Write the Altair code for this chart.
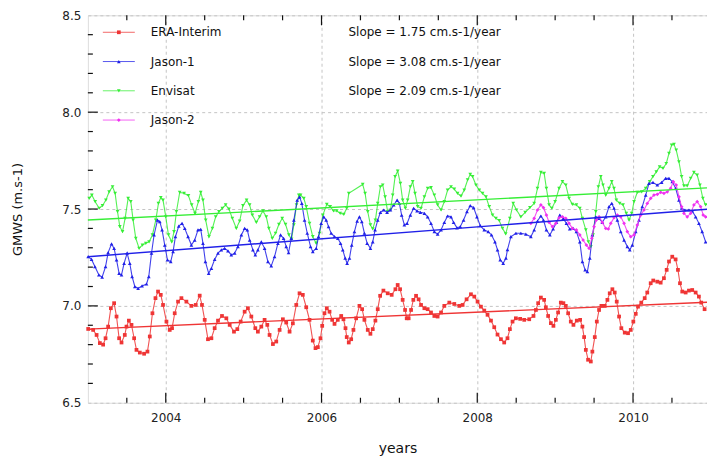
import altair as alt
import pandas as pd

# ---------------- data ----------------
era_t = [2003.004, 2003.068, 2003.112, 2003.154, 2003.196, 2003.227, 2003.260, 2003.295, 2003.337, 2003.368,
         2003.401, 2003.432, 2003.474, 2003.496, 2003.526, 2003.560, 2003.594, 2003.624, 2003.667, 2003.722,
         2003.765, 2003.795, 2003.829, 2003.868, 2003.901, 2003.936, 2003.965, 2004.009, 2004.051, 2004.081,
         2004.115, 2004.158, 2004.201, 2004.265, 2004.329, 2004.385, 2004.436, 2004.465, 2004.500, 2004.542,
         2004.586, 2004.628, 2004.671, 2004.722, 2004.778, 2004.821, 2004.876, 2004.919, 2004.962, 2005.013,
         2005.055, 2005.099, 2005.150, 2005.183, 2005.227, 2005.269, 2005.304, 2005.333, 2005.376, 2005.419,
         2005.462, 2005.504, 2005.547, 2005.590, 2005.632, 2005.676, 2005.718, 2005.760, 2005.804, 2005.846,
         2005.888, 2005.923, 2005.953, 2005.987, 2006.009, 2006.038, 2006.068, 2006.103, 2006.137, 2006.167,
         2006.209, 2006.253, 2006.282, 2006.308, 2006.324, 2006.350, 2006.381, 2006.410, 2006.445, 2006.487,
         2006.522, 2006.551, 2006.594, 2006.628, 2006.658, 2006.692, 2006.722, 2006.753, 2006.795, 2006.850,
         2006.901, 2006.949, 2006.978, 2007.009, 2007.042, 2007.073, 2007.094, 2007.119, 2007.150, 2007.179,
         2007.214, 2007.247, 2007.278, 2007.321, 2007.363, 2007.406, 2007.449, 2007.491, 2007.535, 2007.577,
         2007.641, 2007.705, 2007.769, 2007.812, 2007.863, 2007.919, 2007.962, 2008.004, 2008.047, 2008.090,
         2008.132, 2008.176, 2008.218, 2008.260, 2008.304, 2008.346, 2008.388, 2008.419, 2008.453, 2008.496,
         2008.551, 2008.603, 2008.667, 2008.722, 2008.753, 2008.782, 2008.817, 2008.859, 2008.881, 2008.910,
         2008.945, 2008.978, 2009.009, 2009.038, 2009.073, 2009.106, 2009.137, 2009.167, 2009.201, 2009.235,
         2009.278, 2009.321, 2009.350, 2009.372, 2009.394, 2009.423, 2009.458, 2009.478, 2009.509, 2009.535,
         2009.564, 2009.594, 2009.637, 2009.671, 2009.701, 2009.735, 2009.765, 2009.791, 2009.821, 2009.850,
         2009.894, 2009.936, 2009.971, 2010.004, 2010.035, 2010.064, 2010.106, 2010.150, 2010.183, 2010.227,
         2010.260, 2010.312, 2010.355, 2010.397, 2010.432, 2010.462, 2010.504, 2010.547, 2010.577, 2010.603,
         2010.632, 2010.676, 2010.718, 2010.760, 2010.804, 2010.846, 2010.876, 2010.919]
era_v = [6.881, 6.876, 6.850, 6.808, 6.800, 6.833, 6.893, 6.988, 7.014, 6.945,
         6.833, 6.811, 6.850, 6.893, 6.924, 6.902, 6.833, 6.773, 6.759, 6.753,
         6.764, 6.842, 6.962, 7.040, 7.074, 7.057, 7.005, 6.919, 6.876, 6.885,
         6.962, 7.022, 7.040, 7.022, 7.000, 7.005, 7.053, 7.005, 6.928, 6.828,
         6.833, 6.885, 6.924, 6.948, 6.936, 6.902, 6.867, 6.880, 6.919, 6.970,
         6.988, 6.945, 6.885, 6.867, 6.893, 6.928, 6.902, 6.850, 6.803, 6.816,
         6.876, 6.931, 6.914, 6.867, 6.910, 7.005, 7.065, 7.057, 6.993, 6.928,
         6.821, 6.782, 6.787, 6.833, 6.897, 6.962, 6.988, 6.970, 6.928, 6.907,
         6.928, 6.948, 6.931, 6.885, 6.839, 6.811, 6.828, 6.876, 6.936, 7.000,
         6.983, 6.928, 6.876, 6.856, 6.880, 6.924, 6.983, 7.052, 7.079, 7.065,
         7.057, 7.086, 7.108, 7.086, 7.031, 6.979, 6.936, 6.936, 6.979, 7.031,
         7.052, 7.034, 7.005, 6.988, 6.983, 6.966, 6.948, 6.945, 6.966, 7.000,
         7.017, 7.010, 7.000, 7.005, 7.034, 7.060, 7.048, 7.022, 6.996, 6.976,
         6.954, 6.924, 6.890, 6.852, 6.828, 6.811, 6.833, 6.880, 6.919, 6.936,
         6.933, 6.928, 6.931, 6.948, 6.979, 7.014, 7.043, 7.031, 6.993, 6.948,
         6.911, 6.897, 6.928, 6.966, 7.017, 7.014, 7.000, 6.962, 6.919, 6.902,
         6.924, 6.928, 6.893, 6.839, 6.773, 6.722, 6.713, 6.764, 6.839, 6.919,
         6.979, 7.000, 7.000, 7.031, 7.065, 7.086, 7.069, 7.022, 6.945, 6.885,
         6.862, 6.859, 6.876, 6.919, 6.959, 6.996, 7.017, 7.040, 7.069, 7.117,
         7.131, 7.125, 7.120, 7.143, 7.186, 7.229, 7.254, 7.240, 7.186, 7.117,
         7.074, 7.069, 7.079, 7.082, 7.069, 7.048, 7.017, 6.983]

j1_t = [2003.004, 2003.047, 2003.090, 2003.141, 2003.183, 2003.227, 2003.260, 2003.304, 2003.337, 2003.368,
        2003.401, 2003.432, 2003.465, 2003.504, 2003.538, 2003.568, 2003.603, 2003.645, 2003.696, 2003.753,
        2003.782, 2003.817, 2003.850, 2003.894, 2003.923, 2003.953, 2003.987, 2004.022, 2004.064, 2004.094,
        2004.124, 2004.167, 2004.209, 2004.244, 2004.286, 2004.329, 2004.372, 2004.414, 2004.449, 2004.478,
        2004.509, 2004.551, 2004.586, 2004.628, 2004.671, 2004.714, 2004.756, 2004.799, 2004.842, 2004.885,
        2004.927, 2004.971, 2005.013, 2005.047, 2005.077, 2005.119, 2005.150, 2005.183, 2005.227, 2005.269,
        2005.312, 2005.355, 2005.397, 2005.440, 2005.474, 2005.513, 2005.547, 2005.577, 2005.612, 2005.645,
        2005.688, 2005.718, 2005.747, 2005.782, 2005.817, 2005.859, 2005.888, 2005.932, 2005.962, 2005.996,
        2006.029, 2006.060, 2006.090, 2006.124, 2006.167, 2006.209, 2006.244, 2006.273, 2006.304, 2006.329,
        2006.359, 2006.388, 2006.423, 2006.458, 2006.487, 2006.517, 2006.551, 2006.586, 2006.628, 2006.658,
        2006.688, 2006.722, 2006.756, 2006.799, 2006.842, 2006.885, 2006.927, 2006.971, 2007.000, 2007.029,
        2007.064, 2007.099, 2007.141, 2007.183, 2007.227, 2007.269, 2007.321, 2007.363, 2007.406, 2007.449,
        2007.491, 2007.535, 2007.577, 2007.619, 2007.663, 2007.696, 2007.740, 2007.782, 2007.824, 2007.868,
        2007.910, 2007.953, 2007.996, 2008.038, 2008.090, 2008.141, 2008.183, 2008.227, 2008.260, 2008.295,
        2008.333, 2008.368, 2008.388, 2008.432, 2008.496, 2008.560, 2008.624, 2008.688, 2008.731, 2008.773,
        2008.817, 2008.850, 2008.888, 2008.932, 2008.974, 2009.017, 2009.060, 2009.103, 2009.145, 2009.188,
        2009.231, 2009.273, 2009.317, 2009.350, 2009.385, 2009.414, 2009.445, 2009.478, 2009.522, 2009.564,
        2009.606, 2009.650, 2009.692, 2009.727, 2009.756, 2009.799, 2009.842, 2009.885, 2009.927, 2009.958,
        2009.991, 2010.035, 2010.077, 2010.119, 2010.163, 2010.205, 2010.256, 2010.312, 2010.368, 2010.419,
        2010.462, 2010.504, 2010.547, 2010.590, 2010.624, 2010.667, 2010.718, 2010.760, 2010.804, 2010.846,
        2010.888, 2010.932]
j1_v = [7.254, 7.240, 7.203, 7.160, 7.148, 7.203, 7.275, 7.320, 7.297, 7.237,
        7.168, 7.160, 7.220, 7.272, 7.220, 7.151, 7.100, 7.091, 7.103, 7.113,
        7.151, 7.272, 7.366, 7.443, 7.435, 7.392, 7.314, 7.237, 7.228, 7.280,
        7.357, 7.412, 7.426, 7.400, 7.357, 7.314, 7.340, 7.392, 7.395, 7.323,
        7.228, 7.168, 7.194, 7.240, 7.272, 7.289, 7.297, 7.284, 7.263, 7.272,
        7.306, 7.366, 7.400, 7.392, 7.340, 7.289, 7.263, 7.289, 7.331, 7.297,
        7.228, 7.206, 7.254, 7.323, 7.366, 7.349, 7.306, 7.275, 7.349, 7.443,
        7.546, 7.563, 7.529, 7.443, 7.375, 7.306, 7.280, 7.297, 7.357, 7.426,
        7.460, 7.443, 7.409, 7.375, 7.357, 7.349, 7.323, 7.289, 7.246, 7.220,
        7.246, 7.314, 7.383, 7.438, 7.460, 7.435, 7.375, 7.323, 7.297, 7.331,
        7.392, 7.443, 7.483, 7.495, 7.483, 7.495, 7.521, 7.546, 7.529, 7.469,
        7.418, 7.426, 7.469, 7.504, 7.490, 7.483, 7.478, 7.460, 7.426, 7.383,
        7.370, 7.392, 7.431, 7.464, 7.460, 7.431, 7.403, 7.409, 7.443, 7.486,
        7.517, 7.507, 7.460, 7.414, 7.392, 7.383, 7.366, 7.331, 7.289, 7.237,
        7.220, 7.246, 7.290, 7.357, 7.375, 7.375, 7.370, 7.357, 7.392, 7.438,
        7.464, 7.443, 7.392, 7.366, 7.397, 7.431, 7.469, 7.452, 7.426, 7.397,
        7.400, 7.383, 7.331, 7.228, 7.186, 7.177, 7.246, 7.366, 7.460, 7.452,
        7.431, 7.460, 7.512, 7.529, 7.504, 7.443, 7.383, 7.340, 7.306, 7.289,
        7.314, 7.383, 7.443, 7.512, 7.572, 7.632, 7.637, 7.624, 7.637, 7.658,
        7.658, 7.641, 7.607, 7.546, 7.504, 7.495, 7.495, 7.490, 7.460, 7.426,
        7.383, 7.331]

env_t = [2003.017, 2003.051, 2003.094, 2003.145, 2003.188, 2003.231, 2003.273, 2003.317, 2003.350, 2003.381,
         2003.410, 2003.445, 2003.478, 2003.517, 2003.551, 2003.581, 2003.615, 2003.658, 2003.701, 2003.744,
         2003.786, 2003.829, 2003.872, 2003.906, 2003.936, 2003.965, 2004.000, 2004.035, 2004.077, 2004.106,
         2004.137, 2004.179, 2004.235, 2004.291, 2004.333, 2004.376, 2004.419, 2004.449, 2004.478, 2004.513,
         2004.555, 2004.599, 2004.641, 2004.683, 2004.727, 2004.769, 2004.812, 2004.855, 2004.906, 2004.949,
         2004.991, 2005.038, 2005.077, 2005.112, 2005.163, 2005.205, 2005.247, 2005.291, 2005.324, 2005.368,
         2005.410, 2005.453, 2005.496, 2005.538, 2005.581, 2005.615, 2005.645, 2005.679, 2005.709, 2005.731,
         2005.773, 2005.804, 2005.846, 2005.888, 2005.932, 2005.974, 2006.017, 2006.068, 2006.112, 2006.154,
         2006.196, 2006.240, 2006.286, 2006.324, 2006.350, 2006.529, 2006.560, 2006.594, 2006.628, 2006.658,
         2006.692, 2006.722, 2006.756, 2006.786, 2006.817, 2006.850, 2006.885, 2006.914, 2006.945, 2006.978,
         2007.013, 2007.042, 2007.077, 2007.106, 2007.141, 2007.171, 2007.201, 2007.235, 2007.278, 2007.321,
         2007.363, 2007.406, 2007.449, 2007.491, 2007.535, 2007.577, 2007.619, 2007.663, 2007.705, 2007.747,
         2007.791, 2007.833, 2007.876, 2007.910, 2007.940, 2007.983, 2008.026, 2008.068, 2008.112, 2008.154,
         2008.196, 2008.240, 2008.282, 2008.324, 2008.365, 2008.419, 2008.462, 2008.504, 2008.560, 2008.615,
         2008.676, 2008.731, 2008.773, 2008.817, 2008.859, 2008.888, 2008.923, 2008.958, 2009.000, 2009.051,
         2009.094, 2009.137, 2009.179, 2009.222, 2009.273, 2009.317, 2009.350, 2009.394, 2009.427, 2009.458,
         2009.487, 2009.522, 2009.555, 2009.586, 2009.615, 2009.650, 2009.692, 2009.727, 2009.756, 2009.786,
         2009.829, 2009.872, 2009.914, 2009.949, 2009.983, 2010.013, 2010.055, 2010.112, 2010.163, 2010.214,
         2010.256, 2010.299, 2010.342, 2010.385, 2010.427, 2010.462, 2010.496, 2010.526, 2010.555, 2010.590,
         2010.624, 2010.654, 2010.696, 2010.740, 2010.782, 2010.824, 2010.859, 2010.897, 2010.932]
env_v = [7.555, 7.572, 7.538, 7.504, 7.517, 7.546, 7.589, 7.615, 7.581, 7.486,
         7.409, 7.383, 7.452, 7.555, 7.538, 7.443, 7.349, 7.297, 7.314, 7.323,
         7.331, 7.366, 7.443, 7.529, 7.559, 7.546, 7.460, 7.366, 7.331, 7.383,
         7.486, 7.586, 7.581, 7.569, 7.521, 7.478, 7.538, 7.586, 7.546, 7.443,
         7.357, 7.400, 7.460, 7.486, 7.504, 7.521, 7.500, 7.452, 7.400, 7.438,
         7.517, 7.546, 7.521, 7.469, 7.431, 7.460, 7.490, 7.460, 7.400, 7.349,
         7.375, 7.421, 7.452, 7.421, 7.366, 7.345, 7.418, 7.521, 7.572, 7.572,
         7.555, 7.512, 7.426, 7.357, 7.323, 7.375, 7.469, 7.524, 7.512, 7.490,
         7.490, 7.478, 7.473, 7.504, 7.581, 7.627, 7.581, 7.486, 7.418, 7.397,
         7.443, 7.529, 7.615, 7.624, 7.563, 7.486, 7.495, 7.572, 7.667, 7.696,
         7.632, 7.546, 7.504, 7.546, 7.615, 7.641, 7.581, 7.512, 7.504, 7.563,
         7.607, 7.610, 7.572, 7.521, 7.495, 7.538, 7.598, 7.615, 7.603, 7.581,
         7.567, 7.598, 7.650, 7.679, 7.667, 7.624, 7.598, 7.581, 7.563, 7.512,
         7.469, 7.452, 7.440, 7.400, 7.372, 7.452, 7.529, 7.495, 7.460, 7.483,
         7.507, 7.529, 7.607, 7.689, 7.684, 7.607, 7.521, 7.504, 7.538, 7.607,
         7.641, 7.624, 7.555, 7.524, 7.521, 7.504, 7.452, 7.392, 7.331, 7.306,
         7.366, 7.486, 7.615, 7.667, 7.624, 7.572, 7.607, 7.641, 7.607, 7.546,
         7.529, 7.521, 7.478, 7.443, 7.478, 7.538, 7.586, 7.589, 7.607, 7.641,
         7.667, 7.692, 7.718, 7.710, 7.735, 7.787, 7.830, 7.834, 7.804, 7.744,
         7.667, 7.620, 7.620, 7.658, 7.689, 7.675, 7.624, 7.555, 7.521]

j2_t = [2008.688, 2008.731, 2008.773, 2008.817, 2008.850, 2008.888, 2008.923, 2008.965, 2009.009, 2009.051,
        2009.094, 2009.137, 2009.179, 2009.222, 2009.273, 2009.317, 2009.359, 2009.401, 2009.436, 2009.471,
        2009.500, 2009.529, 2009.564, 2009.606, 2009.650, 2009.683, 2009.714, 2009.756, 2009.799, 2009.842,
        2009.885, 2009.927, 2009.971, 2010.013, 2010.055, 2010.099, 2010.141, 2010.183, 2010.227, 2010.269,
        2010.312, 2010.355, 2010.397, 2010.440, 2010.483, 2010.517, 2010.555, 2010.590, 2010.624, 2010.654,
        2010.696, 2010.740, 2010.782, 2010.824, 2010.868, 2010.901, 2010.932]
j2_v = [7.426, 7.452, 7.495, 7.521, 7.507, 7.469, 7.431, 7.409, 7.426, 7.455,
        7.460, 7.452, 7.426, 7.400, 7.392, 7.366, 7.340, 7.314, 7.297, 7.349,
        7.409, 7.443, 7.460, 7.431, 7.400, 7.397, 7.426, 7.455, 7.469, 7.460,
        7.426, 7.383, 7.357, 7.366, 7.418, 7.469, 7.495, 7.529, 7.555, 7.572,
        7.576, 7.586, 7.581, 7.589, 7.607, 7.641, 7.624, 7.563, 7.512, 7.478,
        7.460, 7.478, 7.521, 7.538, 7.512, 7.469, 7.460]

# linear trends: value at 2003.0 (read) and slope from the legend (m/s per year)
trend_names = ["ERA-Interim", "Jason-1", "Envisat"]
trend_start = [6.880, 7.254, 7.443]
trend_slope = [0.0175, 0.0308, 0.0209]

names = ["ERA-Interim", "Jason-1", "Envisat", "Jason-2"]
slope_labels = ["Slope = 1.75 cm.s-1/year", "Slope = 3.08 cm.s-1/year",
                "Slope = 2.09 cm.s-1/year", ""]

x_labels = [2004, 2006, 2008, 2010]
y_labels = [6.5, 7.0, 7.5, 8.0, 8.5]
x_major = [2004, 2006, 2008, 2010]
x_minor = [2003.5, 2004.5, 2005, 2005.5, 2006.5, 2007, 2007.5, 2008.5, 2009, 2009.5, 2010.5]
y_major = [7.0, 7.5, 8.0]
y_minor = [6.6, 6.7, 6.8, 6.9, 7.1, 7.2, 7.3, 7.4, 7.6, 7.7, 7.8, 7.9, 8.1, 8.2, 8.3, 8.4]

# ---------------- styling ----------------
FONT = "DejaVu Sans"
W, H = 620, 388
XDOM = [2003.0, 2010.95]
YDOM = [6.5, 8.5]
colors = {"ERA-Interim": "#ef3535", "Jason-1": "#2020e8", "Envisat": "#36ee36", "Jason-2": "#f030f0"}
shapes = {"ERA-Interim": "square", "Jason-1": "triangle-up", "Envisat": "triangle-down", "Jason-2": "diamond"}

xs = alt.Scale(domain=XDOM, nice=False, zero=False)
ys = alt.Scale(domain=YDOM, nice=False, zero=False)

XA = alt.Axis(values=x_labels, format="d", title="years", grid=True, gridDash=[3, 3],
              gridColor="#c4c4c4", gridWidth=1, ticks=False, domain=False,
              labelPadding=10, labelFontSize=12, labelColor="#222", labelFont=FONT,
              titleFontSize=14, titleFontWeight="normal", titleFont=FONT, titleColor="#111",
              titlePadding=18)
YA = alt.Axis(values=y_labels, format=".1f", title="GMWS (m.s-1)", grid=True,
              gridDash=[3, 3], gridColor="#c4c4c4", gridWidth=1, ticks=False, domain=False,
              labelPadding=7, labelFontSize=12, labelColor="#222", labelFont=FONT,
              titleFontSize=13, titleFontWeight="normal", titleFont=FONT, titleColor="#111",
              titlePadding=37)

def X(field="t"):
    return alt.X(f"{field}:Q", scale=xs, axis=XA)

def Y(field="v"):
    return alt.Y(f"{field}:Q", scale=ys, axis=YA)

layers = []

# inward ticks (bottom, top, left)
def xticks(vals, y1, y2):
    return alt.Chart(pd.DataFrame({"t": vals})).mark_rule(color="#111", strokeWidth=1.2).encode(
        x=X(), y=alt.value(y1), y2=alt.value(y2))

def yticks(vals, x1, x2):
    return alt.Chart(pd.DataFrame({"v": vals})).mark_rule(color="#111", strokeWidth=1.2).encode(
        y=Y(), x=alt.value(x1), x2=alt.value(x2))

layers += [xticks(x_major, H, H - 10), xticks(x_minor, H, H - 5),
           xticks(x_major, 0, 10), xticks(x_minor, 0, 5),
           yticks(y_major, 0, 10), yticks(y_minor, 0, 5)]

# series
series = {"ERA-Interim": (era_t, era_v), "Jason-1": (j1_t, j1_v),
          "Envisat": (env_t, env_v), "Jason-2": (j2_t, j2_v)}
for name in ["Envisat", "Jason-1", "Jason-2", "ERA-Interim"]:
    t, v = series[name]
    df = pd.DataFrame({"t": t, "v": v})
    base = alt.Chart(df).encode(x=X(), y=Y())
    layers.append(base.mark_line(color=colors[name], strokeWidth=1.1, opacity=0.85))
    layers.append(base.mark_point(shape=shapes[name], filled=True, size=14,
                                  color=colors[name], opacity=1))

# trend lines
for name, v0, s in zip(trend_names, trend_start, trend_slope):
    df = pd.DataFrame({"t": XDOM, "v": [v0 + s * (XDOM[0] - 2003.0), v0 + s * (XDOM[1] - 2003.0)]})
    layers.append(alt.Chart(df).mark_line(color=colors[name], strokeWidth=1.4).encode(x=X(), y=Y()))

# legend (inside, top-left)
one = pd.DataFrame({"a": [0]})
for i, name in enumerate(names):
    yy = 17 + 29.3 * i
    c = colors[name]
    layers.append(alt.Chart(one).mark_rule(color=c, strokeWidth=1, opacity=0.75).encode(
        x=alt.value(15), x2=alt.value(47), y=alt.value(yy)))
    layers.append(alt.Chart(one).mark_point(shape=shapes[name], filled=True, size=14, color=c,
                                            opacity=1).encode(x=alt.value(31), y=alt.value(yy)))
    layers.append(alt.Chart(one).mark_text(align="left", baseline="middle", fontSize=12,
                                           font=FONT, color="#111", text=name).encode(
        x=alt.value(63), y=alt.value(yy)))
    if slope_labels[i]:
        layers.append(alt.Chart(one).mark_text(align="left", baseline="middle", fontSize=12,
                                               font=FONT, color="#111", text=slope_labels[i]).encode(
            x=alt.value(261), y=alt.value(yy)))

chart = alt.layer(*layers).properties(
    width=W, height=H,
    autosize=alt.AutoSizeParams(type="none"),
    padding={"left": 88, "top": 15, "right": 0, "bottom": 54},
    background="white",
).configure_view(stroke="#111", strokeWidth=1.5).configure(font=FONT)

chart.save("out.html", embed_options={"renderer": "svg", "actions": False})
